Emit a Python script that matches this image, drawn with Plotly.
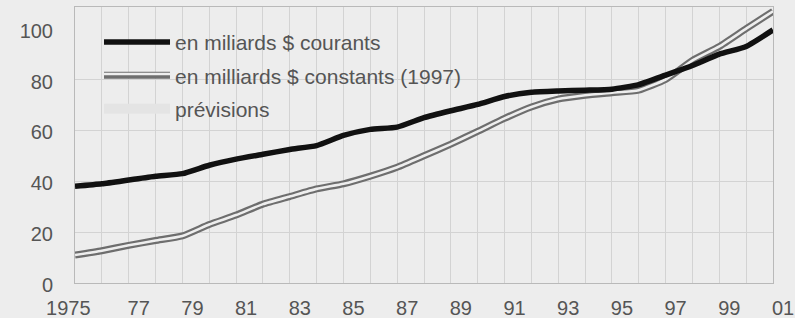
import plotly.graph_objects as go

YEARS = list(range(1975, 2002))
COURANTS = [38, 39, 40.5, 42, 43, 46.3, 48.7, 50.6, 52.5, 54, 58, 60.4, 61.3, 65, 67.7,
            70.2, 73.3, 75, 75.5, 75.8, 76.2, 78, 81.7, 85.5, 90, 93, 99.5]
CONSTANTS = [11, 12.7, 14.8, 16.7, 18.5, 23, 26.7, 31, 34, 37, 39, 42, 45.5, 50, 54.6,
             59.6, 64.7, 69.2, 72.3, 73.8, 74.8, 75.8, 80, 87.5, 93, 100, 106.8]

NAME_COURANTS = "en miliards $ courants"
NAME_CONSTANTS = "en milliards $ constants (1997)"
NAME_PREVISIONS = "prévisions"

XTICK_YEARS = [1975, 1977, 1979, 1981, 1983, 1985, 1987, 1989, 1991, 1993, 1995, 1997, 1999, 2001]
XTICK_TEXT = ["1975", "77", "79", "81", "83", "85", "87", "89", "91", "93", "95", "97", "99", "01"]
YTICKS = [0, 20, 40, 60, 80, 100]
YGRID = [20, 40, 60, 80]

BG = "#ededed"
GRID = "#d3d3d3"
TXT = "#555555"
FONT = "Liberation Sans, Arial, sans-serif"
FS = 20
LFS = 21

fig = go.Figure()

fig.add_trace(go.Scatter(
    x=YEARS, y=CONSTANTS, name=NAME_CONSTANTS, mode="lines",
    line=dict(color="#6e6e6e", width=7, shape="spline", smoothing=0.5),
    legendgroup="b", legendrank=2))
fig.add_trace(go.Scatter(
    x=YEARS, y=CONSTANTS, name=" ", mode="lines",
    line=dict(color="#eeeeee", width=2.6, shape="spline", smoothing=0.5),
    showlegend=True, legend="legend2", hoverinfo="skip"))
fig.add_trace(go.Scatter(
    x=YEARS, y=COURANTS, name=NAME_COURANTS, mode="lines",
    line=dict(color="#111111", width=5.5, shape="spline", smoothing=0.5),
    legendgroup="a", legendrank=1))
fig.add_trace(go.Scatter(
    x=[None], y=[None], name=NAME_PREVISIONS, mode="lines",
    line=dict(color="#e4e4e4", width=10),
    legendgroup="c", legendrank=3))

# first label is padded on the right so it sits left of its grid line
ticktext = [t + "\u2007\u2007\u2007" if i == 0 else t for i, t in enumerate(XTICK_TEXT)]

fig.update_layout(
    width=795, height=318,
    margin=dict(l=75, r=22, t=7, b=35, autoexpand=False),
    paper_bgcolor=BG, plot_bgcolor=BG,
    font=dict(family=FONT, size=FS, color=TXT),
    showlegend=True,
    legend=dict(x=0.0344, y=0.946, xanchor="left", yanchor="top",
                bgcolor="rgba(0,0,0,0)", itemwidth=66, tracegroupgap=3,
                font=dict(family=FONT, size=LFS, color=TXT), traceorder="grouped"),
    legend2=dict(x=0.0344, y=0.830, xanchor="left", yanchor="top",
                 bgcolor="rgba(0,0,0,0)", itemwidth=66,
                 font=dict(family=FONT, size=LFS, color=TXT)),
    xaxis=dict(range=[1975, 2001], tickmode="array", tickvals=XTICK_YEARS, ticktext=ticktext,
               showgrid=False, zeroline=False, ticks="", ticklabelstandoff=7,
               ticklabelshift=10, automargin=False,
               showline=True, mirror=True, linecolor="#b9b9b9", linewidth=1,
               minor=dict(tickmode="linear", tick0=1975, dtick=1, showgrid=True,
                          gridcolor=GRID, gridwidth=1)),
    yaxis=dict(range=[0, 108.5], tickmode="array", tickvals=YTICKS,
               showgrid=False, zeroline=False, ticks="", ticklabelstandoff=17,
               ticklabelshift=2, automargin=False,
               showline=True, mirror=True, linecolor="#b9b9b9", linewidth=1,
               minor=dict(tickmode="array", tickvals=YGRID, showgrid=True,
                          gridcolor=GRID, gridwidth=1)),
)

fig.write_html(
    "out.html",
    config={"displayModeBar": False},
    post_script="document.body.style.margin='0';document.body.style.background='#ededed';",
)
